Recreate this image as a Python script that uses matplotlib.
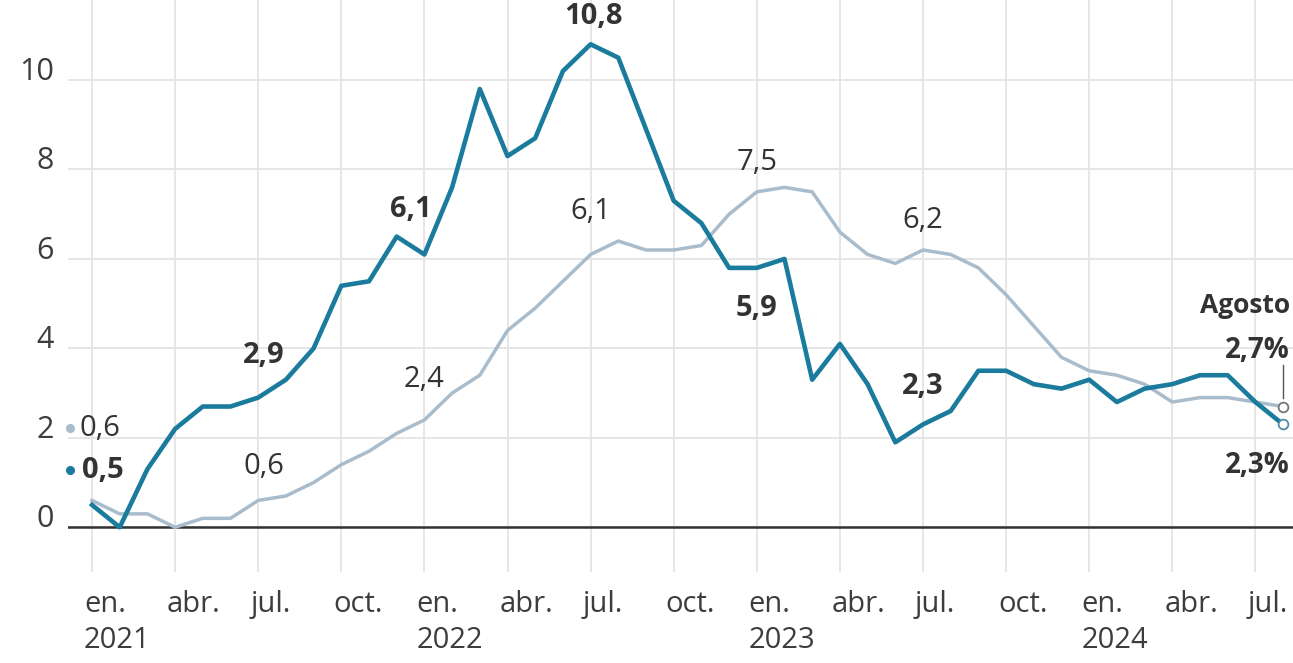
import matplotlib
matplotlib.use("Agg")
import matplotlib.pyplot as plt
from matplotlib.transforms import ScaledTranslation

plt.rcParams['font.family'] = ['Open Sans', 'DejaVu Sans']

# IPC general (blue) and subyacente (gray), monthly, en. 2021 -> ago. 2024
general = [0.5, 0.0, 1.3, 2.2, 2.7, 2.7, 2.9, 3.3, 4.0, 5.4, 5.5, 6.5,
           6.1, 7.6, 9.8, 8.3, 8.7, 10.2, 10.8, 10.5, 8.9, 7.3, 6.8, 5.8,
           5.8, 6.0, 3.3, 4.1, 3.2, 1.9, 2.3, 2.6, 3.5, 3.5, 3.2, 3.1,
           3.3, 2.8, 3.1, 3.2, 3.4, 3.4, 2.8, 2.3]
subyacente = [0.6, 0.3, 0.3, 0.0, 0.2, 0.2, 0.6, 0.7, 1.0, 1.4, 1.7, 2.1,
              2.4, 3.0, 3.4, 4.4, 4.9, 5.5, 6.1, 6.4, 6.2, 6.2, 6.3, 7.0,
              7.5, 7.6, 7.5, 6.6, 6.1, 5.9, 6.2, 6.1, 5.8, 5.2, 4.5, 3.8,
              3.5, 3.4, 3.2, 2.8, 2.9, 2.9, 2.8, 2.7]
months = list(range(len(general)))

tick_pos = list(range(0, 43, 3))
tick_labels = ['en.\n2021', 'abr.', 'jul.', 'oct.',
               'en.\n2022', 'abr.', 'jul.', 'oct.',
               'en.\n2023', 'abr.', 'jul.', 'oct.',
               'en.\n2024', 'abr.', 'jul.']
yticks = [0, 2, 4, 6, 8, 10]

# highlighted values: (month index, text)
general_marks = [(6, '2,9'), (12, '6,1'), (18, '10,8'), (24, '5,9'), (30, '2,3')]
sub_marks = [(6, '0,6'), (12, '2,4'), (18, '6,1'), (24, '7,5'), (30, '6,2')]

BLUE = '#1b7b9d'
GRAY = '#a9bccb'
TXT = '#333333'

W, H = 1293, 663
fig = plt.figure(figsize=(W / 100, H / 100), dpi=100)
ax = fig.add_axes([68 / W, (H - 572) / H, 1 - 68 / W, 572 / H])

px = 27.7  # pixels per month
ax.set_xlim(-24 / px, (1293 - 92) / px)
ax.set_ylim(-1.0, 11.79)
for s in ax.spines.values():
    s.set_visible(False)

ax.set_xticks(tick_pos)
ax.set_xticklabels(tick_labels, fontsize=21, color='#3d3d3d', linespacing=1.3)
ax.set_yticks(yticks)
ax.set_yticklabels([str(v) for v in yticks], fontsize=22, color='#3d3d3d')
ax.tick_params(axis='both', length=0)
ax.tick_params(axis='x', pad=13)
ax.tick_params(axis='y', pad=10)
off = ScaledTranslation(-8 / 100, 0, fig.dpi_scale_trans)
for lbl in ax.get_xticklabels():
    lbl.set_ha('left')
    lbl.set_va('top')
    lbl.set_transform(lbl.get_transform() + off)
for lbl in ax.get_yticklabels():
    lbl.set_va('baseline')

ax.grid(True, color='#e4e4e4', linewidth=1.3, zorder=0)
ax.axhline(0, color='#333333', linewidth=1.8, zorder=2)

ax.plot(months, subyacente, color=GRAY, linewidth=2.5, zorder=3,
        solid_joinstyle='round')
ax.plot(months, general, color=BLUE, linewidth=3.3, zorder=4,
        solid_joinstyle='round')

# label placement relative to the marked point (dx in months, dy in points of %)
g_off = {6: (0.2, 0.95), 12: (-0.5, 1.0), 18: (0.1, 0.62), 24: (0.0, -0.9), 30: (0.0, 0.85)}
s_off = {6: (0.2, 0.75), 12: (0.0, 0.9), 18: (0.0, 0.95), 24: (0.0, 0.65), 30: (0.0, 0.65)}
for i, t in general_marks:
    dx, dy = g_off[i]
    ax.text(i + dx, general[i] + dy, t, ha='center', va='center',
            fontsize=21, fontweight='bold', color=TXT)
for i, t in sub_marks:
    dx, dy = s_off[i]
    ax.text(i + dx, subyacente[i] + dy, t, ha='center', va='center',
            fontsize=21, color=TXT)

# starting values at the left
ax.plot([-0.79], [2.21], 'o', color=GRAY, markersize=5.5, clip_on=False, zorder=5)
ax.text(-0.45, 2.21, '0,6', ha='left', va='center', fontsize=21, color=TXT)
ax.plot([-0.79], [1.28], 'o', color=BLUE, markersize=5.5, clip_on=False, zorder=5)
ax.text(-0.35, 1.28, '0,5', ha='left', va='center', fontsize=21,
        fontweight='bold', color=TXT)

# last values (agosto)
last = months[-1]
ax.plot([last, last], [subyacente[-1] + 0.2, 3.62], color='#555555', linewidth=1.0, zorder=5)
ax.plot([last], [subyacente[-1]], 'o', markerfacecolor='white',
        markeredgecolor='#777777', markersize=7, markeredgewidth=1.3, zorder=6,
        clip_on=False)
ax.plot([last], [general[-1]], 'o', markerfacecolor='white',
        markeredgecolor='#4f8ea6', markersize=7, markeredgewidth=1.3, zorder=6,
        clip_on=False)
xr = last + 7 / px
ax.text(xr, 4.97, 'Agosto', ha='right', va='center', fontsize=19,
        fontweight='bold', color=TXT)
ax.text(xr, 3.96, '2,7%', ha='right', va='center', fontsize=20,
        fontweight='bold', color=TXT)
ax.text(xr, 1.39, '2,3%', ha='right', va='center', fontsize=20,
        fontweight='bold', color=TXT)

fig.savefig('out.png', dpi=100, facecolor='white')
